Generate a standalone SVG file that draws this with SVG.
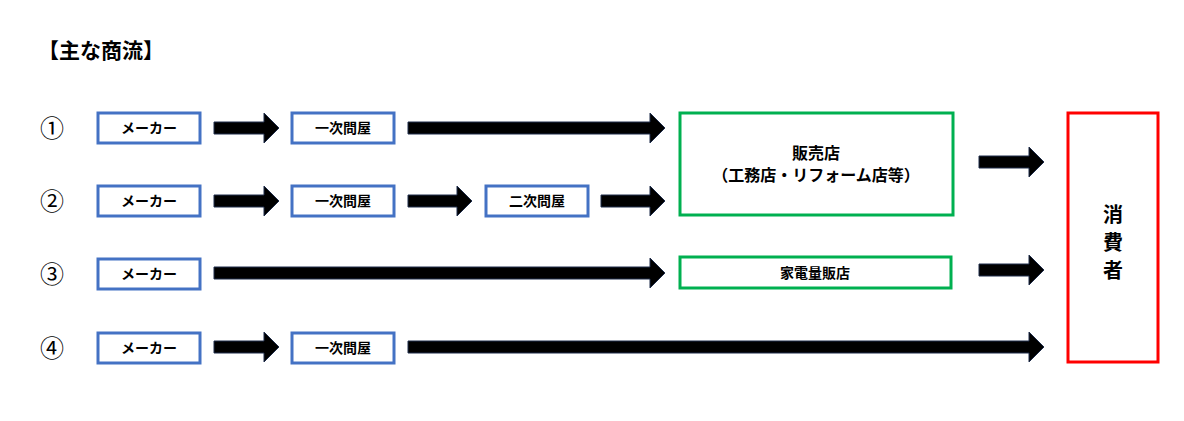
<svg xmlns="http://www.w3.org/2000/svg" width="1184" height="421" viewBox="0 0 1184 421">
<style>
text{font-family:"Noto Sans CJK JP","Liberation Sans",sans-serif;font-weight:bold;fill:#000}
.b{fill:#fff;stroke:#4472C4;stroke-width:3}
.g{fill:#fff;stroke:#00B050;stroke-width:3}
.r{fill:#fff;stroke:#FF0000;stroke-width:3}
.a{fill:#000;stroke:#1F2D4A;stroke-width:1}
.t{font-size:14px;text-anchor:middle}
.u{font-size:16px;text-anchor:middle}
.n{font-size:24px;font-weight:normal;text-anchor:middle}
.c{font-size:20px;text-anchor:middle}
</style>
<rect width="1184" height="421" fill="#fff"/>
<text x="38" y="58" font-size="21">【主な商流】</text>
<text class="n" x="52" y="137">①</text>
<text class="n" x="52" y="210">②</text>
<text class="n" x="52" y="283">③</text>
<text class="n" x="52" y="357">④</text>
<g id="connectors">
<polygon class="a" points="214,122 264,122 264,113 279,128 264,143 264,134 214,134"/>
<polygon class="a" points="408,122 650,122 650,113 665,128 650,143 650,134 408,134"/>
<polygon class="a" points="214,195 264,195 264,186 279,201 264,216 264,207 214,207"/>
<polygon class="a" points="408,195 457,195 457,186 472,201 457,216 457,207 408,207"/>
<polygon class="a" points="601,195 650,195 650,186 665,201 650,216 650,207 601,207"/>
<polygon class="a" points="214,267 650,267 650,258 665,273 650,288 650,279 214,279"/>
<polygon class="a" points="214,341 264,341 264,332 279,347 264,362 264,353 214,353"/>
<polygon class="a" points="408,341 1029,341 1029,332 1044,347 1029,362 1029,353 408,353"/>
<polygon class="a" points="979,156 1029,156 1029,147 1044,162 1029,177 1029,168 979,168"/>
<polygon class="a" points="979,264 1029,264 1029,255 1044,270 1029,285 1029,276 979,276"/>
</g>
<g id="m1"><rect class="b" x="98" y="113" width="102" height="30"/><text class="t" x="149" y="133">メーカー</text></g>
<g id="w1"><rect class="b" x="292" y="113" width="102" height="30"/><text class="t" x="343" y="133">一次問屋</text></g>
<g id="m2"><rect class="b" x="98" y="186" width="102" height="30"/><text class="t" x="149" y="206">メーカー</text></g>
<g id="w2"><rect class="b" x="292" y="186" width="102" height="30"/><text class="t" x="343" y="206">一次問屋</text></g>
<g id="s2"><rect class="b" x="486" y="186" width="102" height="30"/><text class="t" x="537" y="206">二次問屋</text></g>
<g id="m3"><rect class="b" x="98" y="259" width="102" height="30"/><text class="t" x="149" y="279">メーカー</text></g>
<g id="m4"><rect class="b" x="98" y="333" width="102" height="30"/><text class="t" x="149" y="353">メーカー</text></g>
<g id="w4"><rect class="b" x="292" y="333" width="102" height="30"/><text class="t" x="343" y="353">一次問屋</text></g>
<g id="shop"><rect class="g" x="680" y="113" width="273" height="102"/><text class="u" x="816" y="159">販売店</text><text class="u" x="816" y="181">（工務店・リフォーム店等）</text></g>
<g id="kaden"><rect class="g" x="680" y="257" width="271" height="31"/><text class="t" x="815" y="278">家電量販店</text></g>
<g id="consumer"><rect class="r" x="1068" y="113" width="90" height="249"/><text class="c" x="1113" y="222">消</text><text class="c" x="1113" y="250">費</text><text class="c" x="1113" y="278">者</text></g>
</svg>
